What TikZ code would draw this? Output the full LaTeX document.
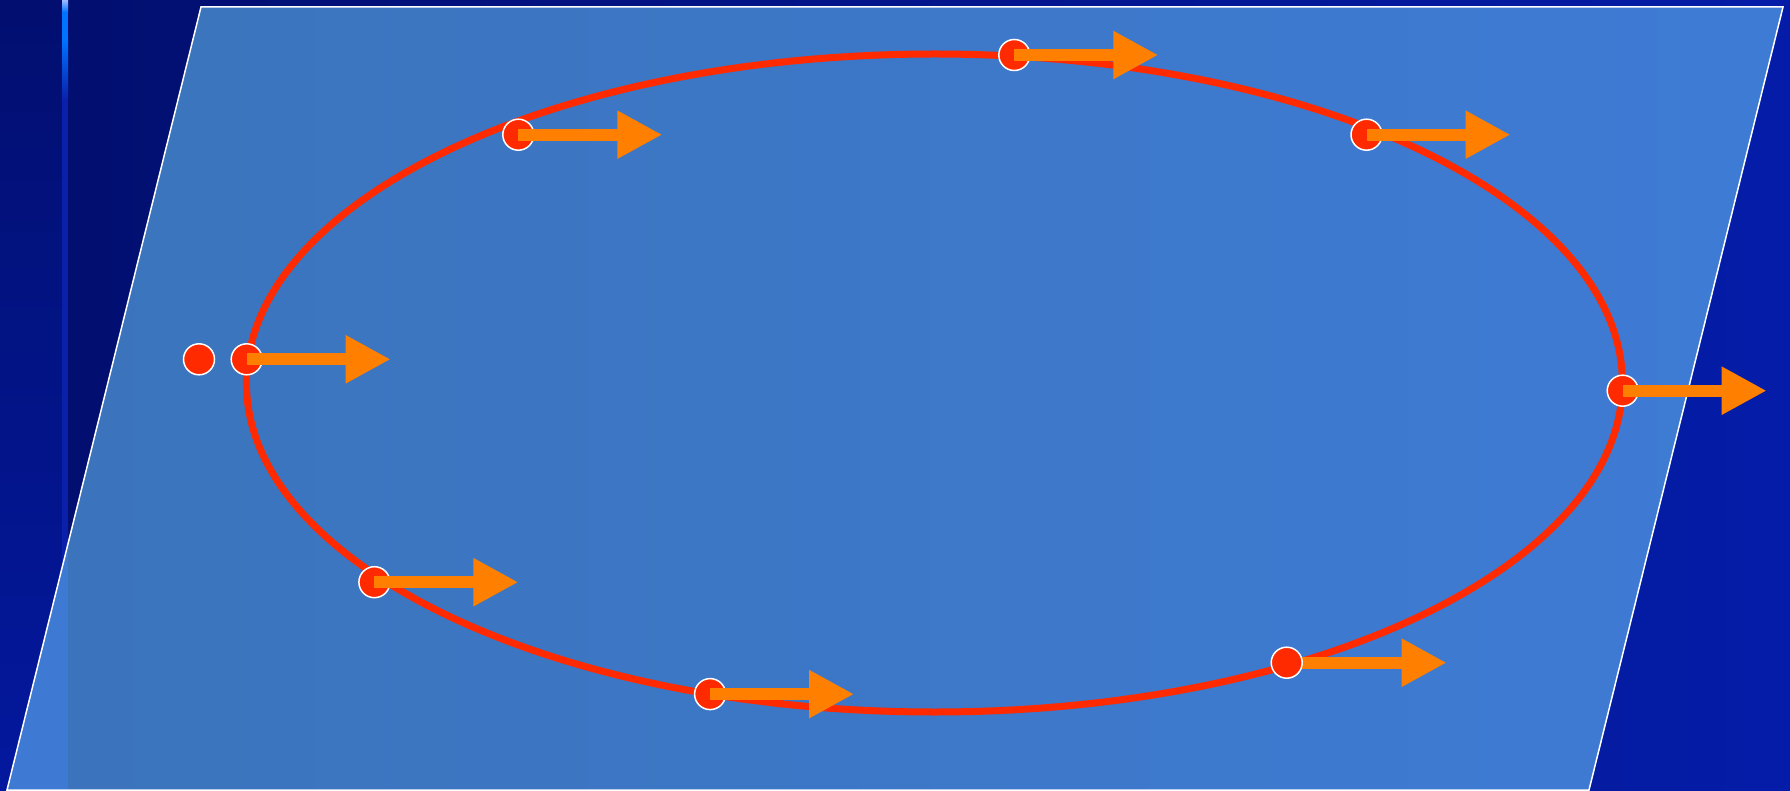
\documentclass[tikz,border=0pt]{standalone}
\usetikzlibrary{arrows.meta}
\definecolor{bgL}{RGB}{2,15,112}
\definecolor{bgR}{RGB}{4,28,168}
\definecolor{bandT}{RGB}{2,15,112}
\definecolor{bandB}{RGB}{3,24,158}
\definecolor{planeL}{RGB}{59,116,187}
\definecolor{planeR}{RGB}{62,123,213}
\definecolor{planeBand}{RGB}{62,122,212}
\definecolor{orbit}{RGB}{255,42,0}
\definecolor{arrowc}{RGB}{255,128,0}
\definecolor{stripA}{RGB}{160,185,255}
\definecolor{stripB}{RGB}{0,115,255}
\definecolor{stripC}{RGB}{10,32,170}
\begin{document}
\begin{tikzpicture}[x=1pt,y=-1pt,
  dot/.style={circle,fill=orbit,draw=white,line width=1.5pt,minimum size=31pt,inner sep=0pt},
  flow/.style={draw=arrowc,line width=12pt,-{Triangle[length=45pt,width=45pt]}},
  orbitline/.style={draw=orbit,line width=7pt},
  planeedge/.style={draw=white,line width=1.5pt}]
\useasboundingbox (0,0) rectangle (1790,791);
% background
\shade[left color=bgL,right color=bgR] (68,0) rectangle (1790,791);
\shade[top color=bandT,bottom color=bandB] (0,0) rectangle (62,791);
\shade[top color=stripA,bottom color=stripB] (62,0) rectangle (68,12);
\fill[stripB] (62,12) rectangle (68,40);
\shade[top color=stripB,bottom color=stripC] (62,40) rectangle (68,100);
\fill[stripC] (62,100) rectangle (68,791);
% plane
\coordinate (p1) at (201,7);
\coordinate (p2) at (1783,7);
\coordinate (p3) at (1589,790);
\coordinate (p4) at (7,790);
\shade[left color=planeL,right color=planeR] (p1)--(p2)--(p3)--(p4)--cycle;
\begin{scope}
  \clip (p1)--(p2)--(p3)--(p4)--cycle;
  \fill[planeBand] (0,0) rectangle (68,791);
\end{scope}
\draw[planeedge] (p1)--(p2)--(p3)--(p4)--cycle;
% orbit
\draw[orbitline] (934.4,383) ellipse [x radius=688pt, y radius=329pt];
% dots
\node[dot] (d1) at (199,359.3) {};
\node[dot] (d2) at (246.7,359.3) {};
\node[dot] (d3) at (518.3,134.7) {};
\node[dot] (d4) at (1014.3,55) {};
\node[dot] (d5) at (1366.5,134.7) {};
\node[dot] (d6) at (1622.7,390.7) {};
\node[dot] (d7) at (374.4,582.2) {};
\node[dot] (d8) at (710.1,694.1) {};
% arrows
\draw[flow] (d2.center) -- ++(144,0);
\draw[flow] (d3.center) -- ++(144,0);
\draw[flow] (d4.center) -- ++(144,0);
\draw[flow] (d5.center) -- ++(144,0);
\draw[flow] (d6.center) -- ++(144,0);
\draw[flow] (d7.center) -- ++(144,0);
\draw[flow] (d8.center) -- ++(144,0);
\coordinate (c9) at (1286.7,662.7);
\draw[flow] (c9) -- ++(160,0);
\node[dot] (d9) at (c9) {};
\end{tikzpicture}
\end{document}
